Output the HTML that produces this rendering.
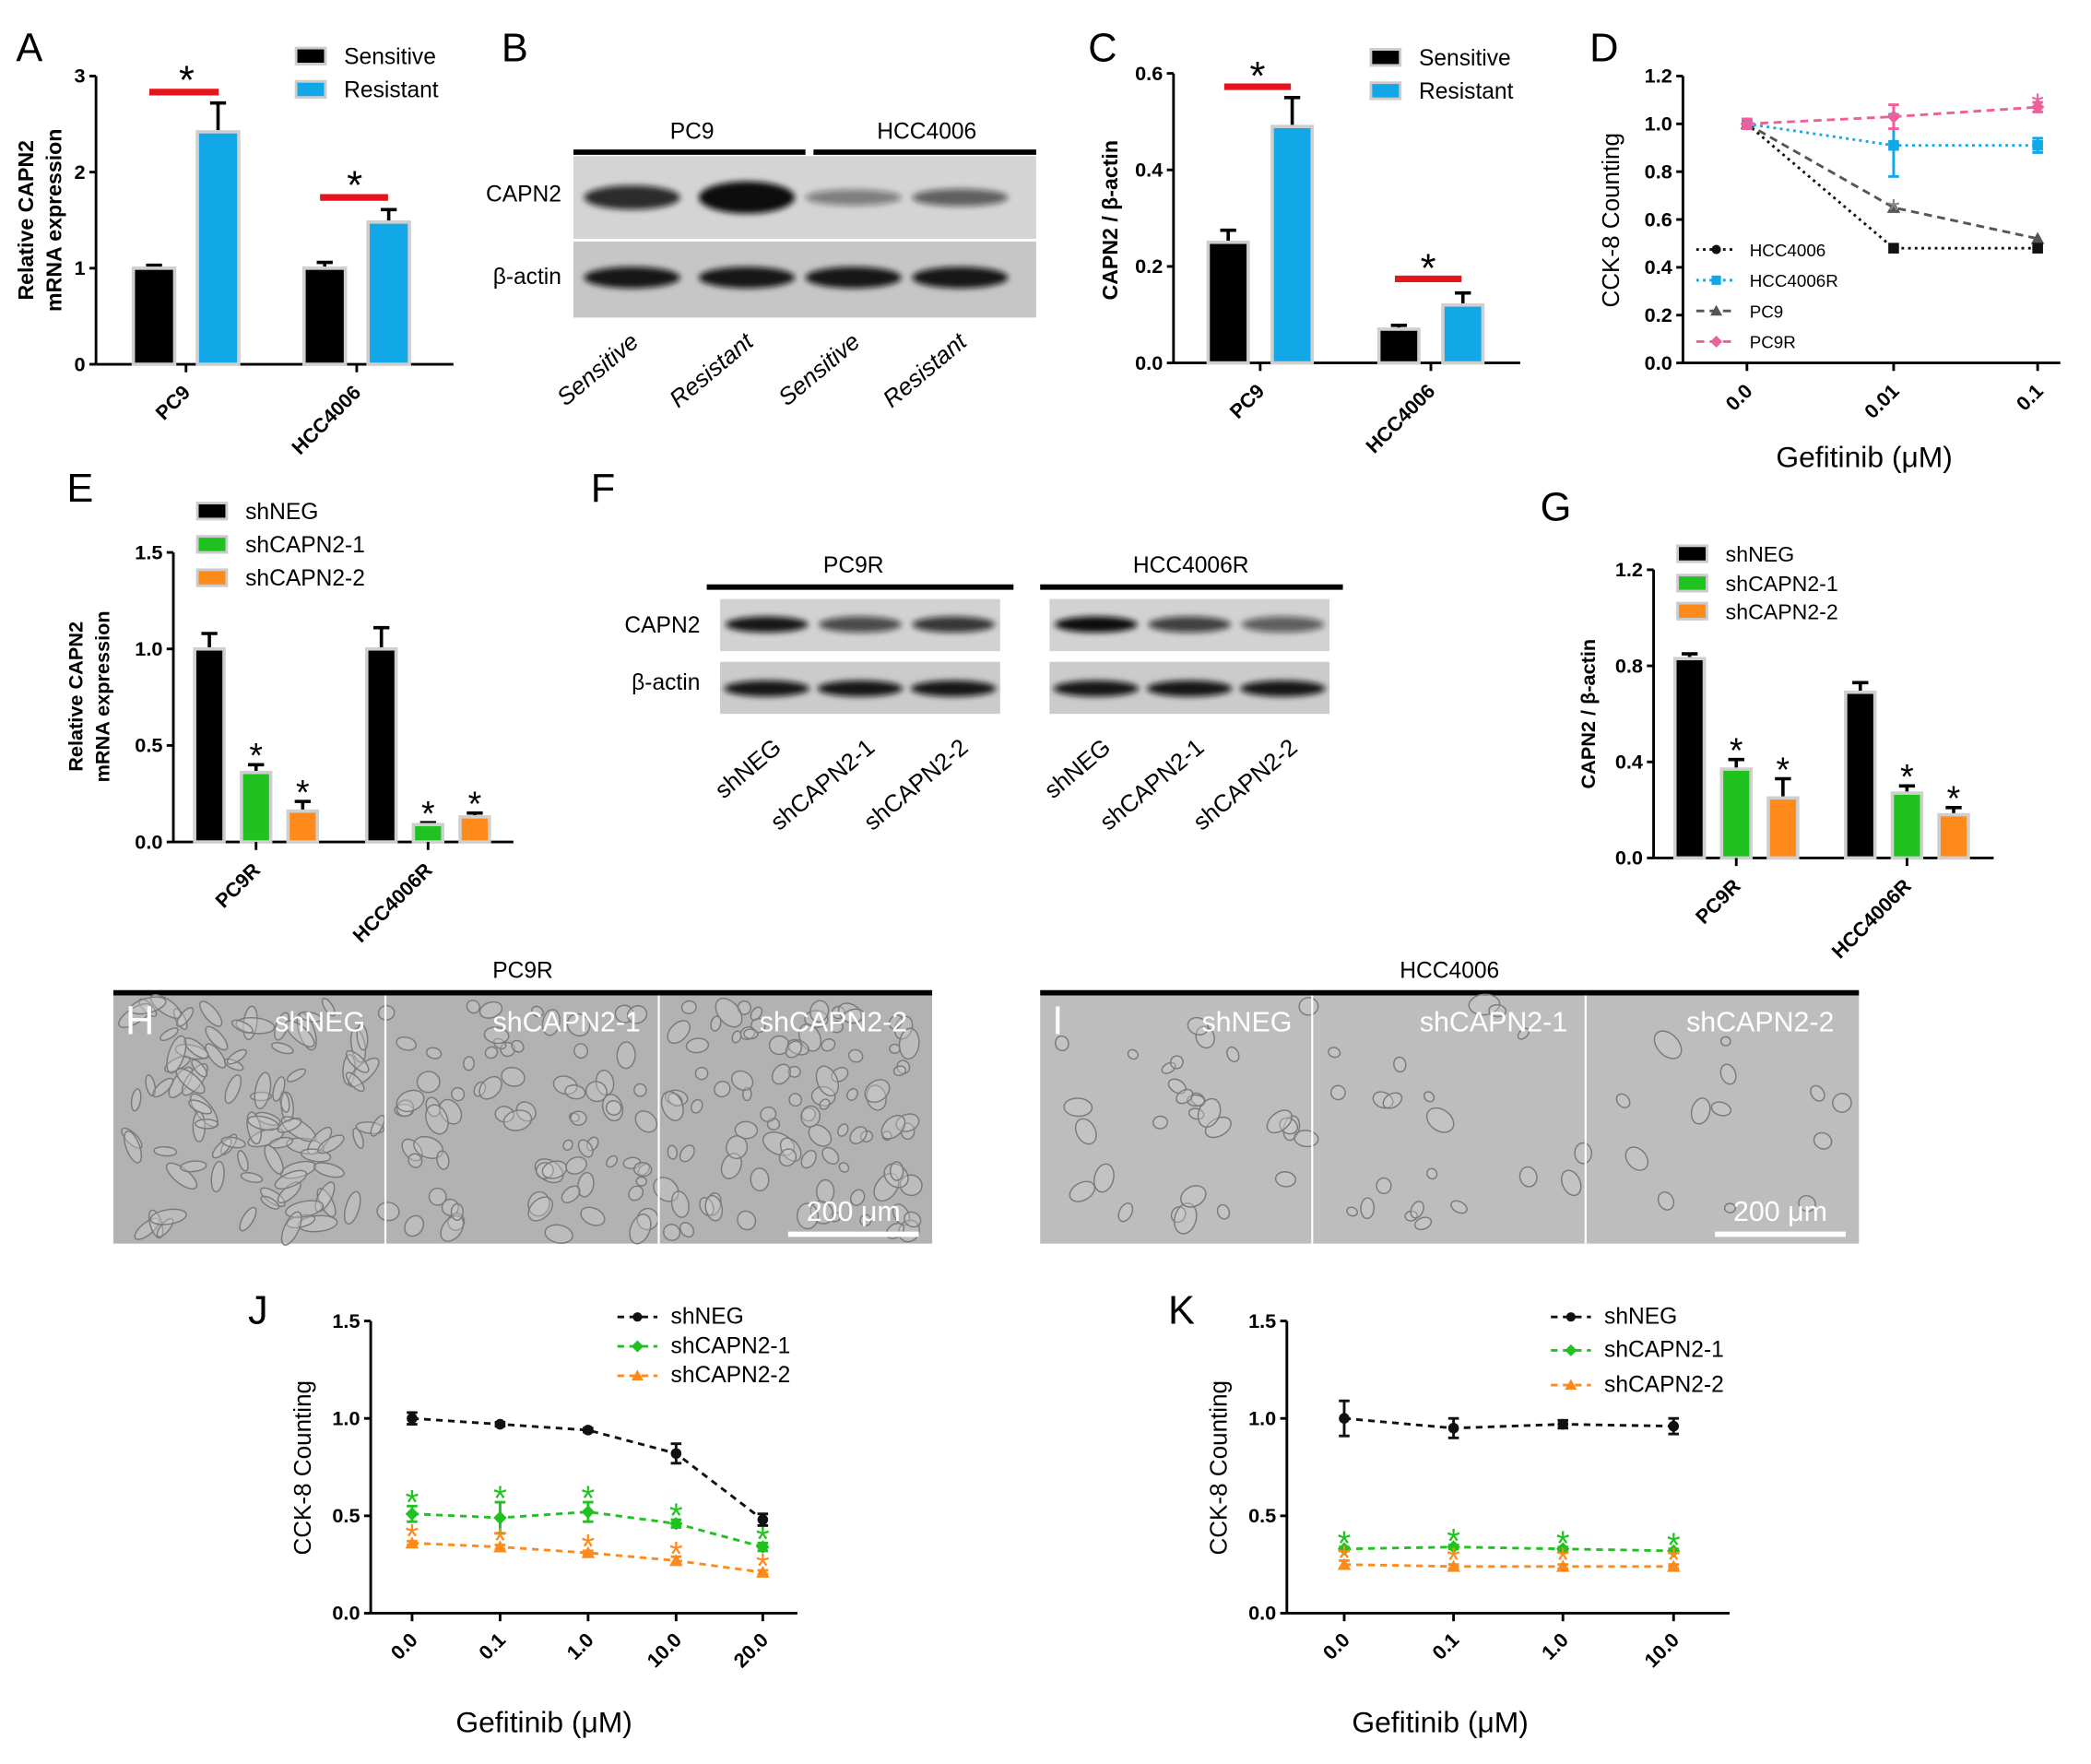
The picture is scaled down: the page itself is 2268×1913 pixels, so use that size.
<!DOCTYPE html>
<html><head><meta charset="utf-8">
<style>
html,body{margin:0;padding:0;background:#fff;}
svg{display:block;font-family:"Liberation Sans",Arial,sans-serif;}
</style></head>
<body>
<svg id="fig" width="2268" height="1913" viewBox="0 0 1568 1322" preserveAspectRatio="none" xmlns="http://www.w3.org/2000/svg"></svg>
<script>
// ---------- DATA ----------
const aCategories = ['PC9','HCC4006'];
const aSensitive = [1.0, 1.0];
const aSensitiveErr = [1.03, 1.06];
const aResistant = [2.42, 1.48];
const aResistantErr = [2.72, 1.61];
const aTicks = [0,1,2,3];

const cCategories = ['PC9','HCC4006'];
const cSensitive = [0.25, 0.07];
const cSensitiveErr = [0.275, 0.078];
const cResistant = [0.49, 0.12];
const cResistantErr = [0.55, 0.145];
const cTicks = [0.0,0.2,0.4,0.6];

const dXLabels = ['0.0','0.01','0.1'];
const dHCC4006 = [1.0, 0.48, 0.48];
const dHCC4006R = [1.0, 0.91, 0.91];
const dHCC4006RErr = [0.02, 0.13, 0.03];
const dPC9 = [1.0, 0.65, 0.52];
const dPC9R = [1.0, 1.03, 1.07];
const dTicks = [0.0,0.2,0.4,0.6,0.8,1.0,1.2];

const eCategories = ['PC9R','HCC4006R'];
const eShNEG = [1.0, 1.0];
const eShNEGErr = [1.08, 1.11];
const eSh1 = [0.36, 0.09];
const eSh1Err = [0.40, 0.10];
const eSh2 = [0.16, 0.13];
const eSh2Err = [0.21, 0.15];
const eTicks = [0.0,0.5,1.0,1.5];

const gCategories = ['PC9R','HCC4006R'];
const gShNEG = [0.83, 0.69];
const gShNEGErr = [0.85, 0.73];
const gSh1 = [0.37, 0.27];
const gSh1Err = [0.41, 0.30];
const gSh2 = [0.25, 0.18];
const gSh2Err = [0.33, 0.21];
const gTicks = [0.0,0.4,0.8,1.2];

const jXLabels = ['0.0','0.1','1.0','10.0','20.0'];
const jShNEG = [1.0, 0.97, 0.94, 0.82, 0.48];
const jShNEGErr = [0.03, 0.01, 0.01, 0.05, 0.03];
const jSh1 = [0.51, 0.49, 0.52, 0.46, 0.34];
const jSh1Err = [0.04, 0.08, 0.05, 0.02, 0.02];
const jSh2 = [0.36, 0.34, 0.31, 0.27, 0.21];
const jSh2Err = [0.01, 0.01, 0.01, 0.02, 0.01];
const jTicks = [0.0,0.5,1.0,1.5];

const kXLabels = ['0.0','0.1','1.0','10.0'];
const kShNEG = [1.0, 0.95, 0.97, 0.96];
const kShNEGErr = [0.09, 0.05, 0.02, 0.04];
const kSh1 = [0.33, 0.34, 0.33, 0.32];
const kSh1Err = [0.01, 0.01, 0.01, 0.01];
const kSh2 = [0.25, 0.24, 0.24, 0.24];
const kSh2Err = [0.02, 0.01, 0.01, 0.01];
const kTicks = [0.0,0.5,1.0,1.5];

// ---------- HELPERS ----------
const NS='http://www.w3.org/2000/svg';
const svg=document.getElementById('fig');
function mk(tag,attrs,name,parent){
  const el=document.createElementNS(NS,tag);
  for(const k in attrs) el.setAttribute(k,attrs[k]);
  
  
  (parent||svg).appendChild(el);
  return el;
}
function txt(x,y,s,name,opt){
  opt=opt||{};
  const a={x:x,y:y,'font-size':opt.size||14,fill:opt.fill||'#000','text-anchor':opt.anchor||'middle'};
  if(opt.bold) a['font-weight']='bold';
  if(opt.italic) a['font-style']='italic';
  if(opt.rot!==undefined) a.transform='rotate('+opt.rot+' '+x+' '+y+')';
  const t=mk('text',a,name,opt.parent);
  t.textContent=s;
  return t;
}
function line(x1,y1,x2,y2,name,opt){
  opt=opt||{};
  const a={x1:x1,y1:y1,x2:x2,y2:y2,stroke:opt.stroke||'#000','stroke-width':opt.w||2};
  if(opt.dash) a['stroke-dasharray']=opt.dash;
  return mk('line',a,name,opt.parent);
}
const BLUE='#12a7e6',GREEN='#1fc21f',ORANGE='#ff8a1c',PINK='#ef5f9c',GRAY='#666';

function yAxis(x,y0,yTop,ticks,max,name,dec){
  const ys=v=>y0-(v/max)*(y0-yTop);
  line(x,y0,x,yTop,name+'-y-axis');
  ticks.forEach(t=>{
    line(x-5,ys(t),x,ys(t),name+'-y-tick');
    txt(x-8,ys(t)+5,dec?t.toFixed(1):String(t),name+'-y-tick-label',{anchor:'end',size:15,bold:true});
  });
  return ys;
}
function barChart(cfg){
  const ys=yAxis(cfg.ax,cfg.y0,cfg.yTop,cfg.ticks,cfg.max,cfg.name,cfg.dec);
  line(cfg.ax,cfg.y0,cfg.axEnd,cfg.y0,cfg.name+'-x-axis');
  cfg.categories.forEach((c,gi)=>{
    const gx=cfg.groupX[gi];
    cfg.series.forEach((s,si)=>{
      const bx=gx+si*cfg.step;
      const v=s.values[gi], e=s.err[gi];
      line(bx+cfg.bw/2,ys(v),bx+cfg.bw/2,ys(e),cfg.name+'-error-bar',{w:2.5});
      line(bx+cfg.bw/2-6,ys(e),bx+cfg.bw/2+6,ys(e),cfg.name+'-error-cap',{w:2.5});
      mk('rect',{x:bx,y:ys(v),width:cfg.bw,height:cfg.y0-ys(v),fill:s.color,stroke:'#cfcfcf','stroke-width':2.5},cfg.name+'-bar-'+c.toLowerCase()+'-'+s.key);
      if(s.star) txt(bx+cfg.bw/2,ys(e)+2,'*',cfg.name+'-significance-star',{size:26});
    });
    const cx=gx+(cfg.series.length*cfg.step-(cfg.step-cfg.bw))/2;
    line(cx,cfg.y0,cx,cfg.y0+6,cfg.name+'-x-tick');
    txt(cx+4,cfg.y0+22,c,cfg.name+'-x-label',{anchor:'end',size:15,bold:true,rot:-45});
  });
  return ys;
}
function legendBox(x,y,color,label,name,ts){
  mk('rect',{x:x,y:y-6,width:22,height:12,fill:color,stroke:'#ccc','stroke-width':2},name+'-swatch');
  txt(x+36,y+6,label,name,{anchor:'start',size:ts||17});
}
function marker(type,x,y,color,name,size){
  size=size||4;
  if(type==='circle') mk('circle',{cx:x,cy:y,r:size,fill:color},name);
  else if(type==='square') mk('rect',{x:x-size,y:y-size,width:size*2,height:size*2,fill:color},name);
  else if(type==='tri') mk('polygon',{points:(x)+','+(y-size-1)+' '+(x-size-1)+','+(y+size)+' '+(x+size+1)+','+(y+size),fill:color},name);
  else if(type==='diamond') mk('polygon',{points:x+','+(y-size-1)+' '+(x+size+1)+','+y+' '+x+','+(y+size+1)+' '+(x-size-1)+','+y,fill:color},name);
}
function series(xs,vals,errs,ys,color,dash,mtype,name){
  const pts=vals.map((v,i)=>xs[i]+','+ys(v)).join(' ');
  mk('polyline',{points:pts,fill:'none',stroke:color,'stroke-width':2,'stroke-dasharray':dash},name+'-line');
  vals.forEach((v,i)=>{
    if(errs){
      const e=errs[i];
      line(xs[i],ys(v-e),xs[i],ys(v+e),name+'-error-bar',{stroke:color,w:2});
      line(xs[i]-4,ys(v+e),xs[i]+4,ys(v+e),name+'-error-cap',{stroke:color,w:2});
      line(xs[i]-4,ys(v-e),xs[i]+4,ys(v-e),name+'-error-cap',{stroke:color,w:2});
    }
    marker(mtype,xs[i],ys(v),color,name+'-point');
  });
}
function lineLegend(x,y,color,dash,mtype,label,name,ts){
  line(x,y,x+30,y,name+'-line',{stroke:color,dash:dash});
  marker(mtype,x+15,y,color,name+'-marker',3.5);
  txt(x+40,y+5,label,name,{anchor:'start',size:ts||17});
}
function letter(x,y,s,col){txt(x,y,s,'panel-label-'+s.toLowerCase(),{size:30,anchor:'start',fill:col||'#000'});}

// ---------- PANEL A ----------
letter(12,46,'A');
barChart({name:'panel-a',ax:72,y0:273,yTop:57,max:3,ticks:aTicks,axEnd:340,categories:aCategories,groupX:[100,228],bw:31,step:48,
  series:[{key:'sensitive',values:aSensitive,err:aSensitiveErr,color:'#000'},{key:'resistant',values:aResistant,err:aResistantErr,color:BLUE}]});
line(112,69,164,69,'panel-a-sig-line-pc9',{stroke:'#e8141b',w:5});
txt(140,70,'*','panel-a-sig-star-pc9',{size:30});
line(240,148,291,148,'panel-a-sig-line-hcc4006',{stroke:'#e8141b',w:5});
txt(266,149,'*','panel-a-sig-star-hcc4006',{size:30});
legendBox(222,42,'#000','Sensitive','panel-a-legend-sensitive');
legendBox(222,67,BLUE,'Resistant','panel-a-legend-resistant');
txt(25,165,'Relative CAPN2','panel-a-y-title-1',{size:16,bold:true,rot:-90});
txt(46,165,'mRNA expression','panel-a-y-title-2',{size:16,bold:true,rot:-90});

// ---------- blot helper ----------
function band(cx,cy,w,h,op,name){
  mk('ellipse',{cx:cx,cy:cy,rx:w/2,ry:h/2,fill:'#111','fill-opacity':op,filter:'url(#blur)'},name);
}
const defs=mk('defs',{},'defs');
const f=mk('filter',{id:'blur',x:'-20%',y:'-50%',width:'140%',height:'200%'},'blur-filter',defs);
mk('feGaussianBlur',{stdDeviation:2.2},'blur',f);

// ---------- PANEL B ----------
letter(376,46,'B');
mk('rect',{x:430,y:117,width:347,height:62,fill:'#d4d4d4'},'panel-b-capn2-blot');
mk('rect',{x:430,y:181,width:347,height:57,fill:'#c6c6c6'},'panel-b-actin-blot');
line(430,114,604,114,'panel-b-group-line-pc9',{w:4});
line(610,114,777,114,'panel-b-group-line-hcc4006',{w:4});
txt(519,104,'PC9','panel-b-group-pc9',{size:17});
txt(695,104,'HCC4006','panel-b-group-hcc4006',{size:17});
txt(421,151,'CAPN2','panel-b-row-capn2',{size:17,anchor:'end'});
txt(421,213,'β-actin','panel-b-row-actin',{size:17,anchor:'end'});
const bLanes=[474,560,640,720];
const bCapnOp=[0.85,1,0.45,0.6];
const bCapnH=[18,24,12,13];
const bLaneLabels=['Sensitive','Resistant','Sensitive','Resistant'];
bLanes.forEach((x,i)=>{
  band(x,148,72,bCapnH[i],bCapnOp[i],'panel-b-capn2-band');
  band(x,208,72,16,0.95,'panel-b-actin-band');
  txt(x+6,258,bLaneLabels[i],'panel-b-lane-label',{size:18,anchor:'end',italic:true,rot:-40});
});

// ---------- PANEL C ----------
letter(816,46,'C');
barChart({name:'panel-c',ax:880,y0:272,yTop:55,max:0.6,ticks:cTicks,dec:true,axEnd:1140,categories:cCategories,groupX:[906,1034],bw:30,step:48,
  series:[{key:'sensitive',values:cSensitive,err:cSensitiveErr,color:'#000'},{key:'resistant',values:cResistant,err:cResistantErr,color:BLUE}]});
line(918,65,968,65,'panel-c-sig-line-pc9',{stroke:'#e8141b',w:5});
txt(943,67,'*','panel-c-sig-star-pc9',{size:30});
line(1046,209,1096,209,'panel-c-sig-line-hcc4006',{stroke:'#e8141b',w:5});
txt(1071,211,'*','panel-c-sig-star-hcc4006',{size:30});
legendBox(1028,43,'#000','Sensitive','panel-c-legend-sensitive');
legendBox(1028,68,BLUE,'Resistant','panel-c-legend-resistant');
txt(838,165,'CAPN2 / β-actin','panel-c-y-title',{size:16,bold:true,rot:-90});

// ---------- PANEL D ----------
letter(1192,46,'D');
const dY=yAxis(1262,272,57,dTicks,1.2,'panel-d',true);
line(1262,272,1545,272,'panel-d-x-axis');
const dX=[1310,1420,1528];
dXLabels.forEach((l,i)=>{line(dX[i],272,dX[i],278,'panel-d-x-tick');txt(dX[i]+5,294,l,'panel-d-x-label',{size:15,bold:true,anchor:'end',rot:-45});});
series(dX,dPC9,null,dY,'#555','6,4','tri','panel-d-pc9');
series(dX,dHCC4006,null,dY,'#111','2,3','square','panel-d-hcc4006');
series(dX,dHCC4006R,dHCC4006RErr,dY,BLUE,'2,3','square','panel-d-hcc4006r');
series(dX,dPC9R,[0.02,0.05,0.02],dY,PINK,'6,4','diamond','panel-d-pc9r');
txt(dX[1],dY(dPC9[1])+10,'*','panel-d-star-pc9',{size:24,fill:'#888'});
txt(dX[2],dY(dPC9R[2])+6,'*','panel-d-star-pc9r',{size:24,fill:PINK});
lineLegend(1272,187,'#111','2,3','circle','HCC4006','panel-d-legend-hcc4006',13);
lineLegend(1272,210,BLUE,'2,3','square','HCC4006R','panel-d-legend-hcc4006r',13);
lineLegend(1272,233,'#555','6,4','tri','PC9','panel-d-legend-pc9',13);
lineLegend(1272,256,PINK,'6,4','diamond','PC9R','panel-d-legend-pc9r',13);
txt(1214,165,'CCK-8 Counting','panel-d-y-title',{size:18,rot:-90});
txt(1398,350,'Gefitinib (μM)','panel-d-x-title',{size:22});

// ---------- PANEL E ----------
letter(50,376,'E');
barChart({name:'panel-e',ax:130,y0:631,yTop:414,max:1.5,ticks:eTicks,dec:true,axEnd:385,categories:eCategories,groupX:[146,275],bw:22,step:35,
  series:[{key:'shneg',values:eShNEG,err:eShNEGErr,color:'#000'},{key:'shcapn2-1',values:eSh1,err:eSh1Err,color:GREEN,star:true},{key:'shcapn2-2',values:eSh2,err:eSh2Err,color:ORANGE,star:true}]});
legendBox(148,383,'#000','shNEG','panel-e-legend-shneg');
legendBox(148,408,GREEN,'shCAPN2-1','panel-e-legend-shcapn2-1');
legendBox(148,433,ORANGE,'shCAPN2-2','panel-e-legend-shcapn2-2');
txt(62,522,'Relative CAPN2','panel-e-y-title-1',{size:15,bold:true,rot:-90});
txt(82,522,'mRNA expression','panel-e-y-title-2',{size:15,bold:true,rot:-90});

// ---------- PANEL F ----------
letter(443,376,'F');
mk('rect',{x:540,y:449,width:210,height:39,fill:'#d2d2d2'},'panel-f-capn2-blot-left');
mk('rect',{x:540,y:496,width:210,height:39,fill:'#cbcbcb'},'panel-f-actin-blot-left');
mk('rect',{x:787,y:449,width:210,height:39,fill:'#d2d2d2'},'panel-f-capn2-blot-right');
mk('rect',{x:787,y:496,width:210,height:39,fill:'#cbcbcb'},'panel-f-actin-blot-right');
line(530,440,760,440,'panel-f-group-line-pc9r',{w:4});
line(780,440,1007,440,'panel-f-group-line-hcc4006r',{w:4});
txt(640,429,'PC9R','panel-f-group-pc9r',{size:17});
txt(893,429,'HCC4006R','panel-f-group-hcc4006r',{size:17});
txt(525,474,'CAPN2','panel-f-row-capn2',{size:17,anchor:'end'});
txt(525,517,'β-actin','panel-f-row-actin',{size:17,anchor:'end'});
const fLanes=[575,645,715,822,892,962];
const fCapnOp=[0.95,0.7,0.8,1,0.75,0.6];
const fLaneLabels=['shNEG','shCAPN2-1','shCAPN2-2','shNEG','shCAPN2-1','shCAPN2-2'];
fLanes.forEach((x,i)=>{
  band(x,468,62,12,fCapnOp[i],'panel-f-capn2-band');
  band(x,516,64,12,0.95,'panel-f-actin-band');
  txt(x+12,562,fLaneLabels[i],'panel-f-lane-label',{size:18,anchor:'end',rot:-40});
});

// ---------- PANEL G ----------
letter(1155,390,'G');
barChart({name:'panel-g',ax:1240,y0:643,yTop:427,max:1.2,ticks:gTicks,dec:true,axEnd:1495,categories:gCategories,groupX:[1256,1384],bw:22,step:35,
  series:[{key:'shneg',values:gShNEG,err:gShNEGErr,color:'#000'},{key:'shcapn2-1',values:gSh1,err:gSh1Err,color:GREEN,star:true},{key:'shcapn2-2',values:gSh2,err:gSh2Err,color:ORANGE,star:true}]});
legendBox(1258,415,'#000','shNEG','panel-g-legend-shneg',16);
legendBox(1258,437,GREEN,'shCAPN2-1','panel-g-legend-shcapn2-1',16);
legendBox(1258,458,ORANGE,'shCAPN2-2','panel-g-legend-shcapn2-2',16);
txt(1196,535,'CAPN2 / β-actin','panel-g-y-title',{size:15,bold:true,rot:-90});

// ---------- PANELS H, I (micrographs) ----------
function micro(x0,title,lbl,labels,seed,dense){
  txt(x0+307,733,title,'panel-'+lbl+'-title',{size:17});
  line(x0,744,x0+614,744,'panel-'+lbl+'-title-line',{w:4});
  const g=mk('g',{},'panel-'+lbl+'-micrograph');
  mk('rect',{x:x0,y:746,width:614,height:186,fill:dense?'#b2b2b2':'#bdbdbd'},'panel-'+lbl+'-background',g);
  let s=seed;
  const rnd=()=>{s=(s*9301+49297)%233280;return s/233280;};
  const n=dense?260:90;
  for(let i=0;i<n;i++){
    const cx=x0+6+rnd()*602, cy=752+rnd()*174;
    const panel=Math.floor((cx-x0)/204.7);
    if(!dense && panel>0 && rnd()<0.5) continue;
    const r=dense&&panel===0?3+rnd()*3:3+rnd()*5;
    const elong=dense&&panel===0?2.5:1+rnd()*0.6;
    mk('ellipse',{cx:cx,cy:cy,rx:r*elong,ry:r,transform:'rotate('+(rnd()*180)+' '+cx+' '+cy+')',fill:'#cfcfcf',stroke:'#7a7a7a','stroke-width':1,'fill-opacity':0.35},'panel-'+lbl+'-cell',g);
  }
  line(x0+204,746,x0+204,932,'panel-'+lbl+'-divider-1',{stroke:'#fff',w:1.5});
  line(x0+409,746,x0+409,932,'panel-'+lbl+'-divider-2',{stroke:'#fff',w:1.5});
  const lx=[x0+155,x0+340,x0+540];
  labels.forEach((l,i)=>txt(lx[i],773,l,'panel-'+lbl+'-condition-label',{size:21,fill:'#fff'}));
  txt(x0+555,915,'200 μm','panel-'+lbl+'-scale-label',{size:21,fill:'#fff'});
  line(x0+506,925,x0+604,925,'panel-'+lbl+'-scale-bar',{stroke:'#fff',w:4});
}
micro(85,'PC9R','h',['shNEG','shCAPN2-1','shCAPN2-2'],17,true);
micro(780,'HCC4006','i',['shNEG','shCAPN2-1','shCAPN2-2'],53,false);
letter(94,775,'H','#fff');
letter(789,775,'I','#fff');

// ---------- PANELS J, K ----------
function cckPanel(cfg){
  const ys=yAxis(cfg.ax,1209,990,cfg.ticks,1.5,cfg.name,true);
  line(cfg.ax,1209,cfg.axEnd,1209,cfg.name+'-x-axis');
  cfg.xl.forEach((l,i)=>{line(cfg.xs[i],1209,cfg.xs[i],1215,cfg.name+'-x-tick');txt(cfg.xs[i]+5,1230,l,cfg.name+'-x-label',{size:15,bold:true,anchor:'end',rot:-45});});
  series(cfg.xs,cfg.neg,cfg.negE,ys,'#111','5,4','circle',cfg.name+'-shneg');
  series(cfg.xs,cfg.s1,cfg.s1E,ys,GREEN,'5,4','diamond',cfg.name+'-shcapn2-1');
  series(cfg.xs,cfg.s2,cfg.s2E,ys,ORANGE,'5,4','tri',cfg.name+'-shcapn2-2');
  cfg.xs.forEach((x,i)=>{
    txt(x,ys(cfg.s1[i]+cfg.s1E[i])+6,'*',cfg.name+'-star-shcapn2-1',{size:26,fill:GREEN});
    txt(x,ys(cfg.s2[i])+4,'*',cfg.name+'-star-shcapn2-2',{size:26,fill:ORANGE});
  });
  lineLegend(cfg.lx,987,'#111','5,4','circle','shNEG',cfg.name+'-legend-shneg');
  lineLegend(cfg.lx,cfg.ly2,GREEN,'5,4','diamond','shCAPN2-1',cfg.name+'-legend-shcapn2-1');
  lineLegend(cfg.lx,cfg.ly3,ORANGE,'5,4','tri','shCAPN2-2',cfg.name+'-legend-shcapn2-2');
  txt(cfg.ax-45,1100,'CCK-8 Counting',cfg.name+'-y-title',{size:18,rot:-90});
  txt(cfg.tx,1298,'Gefitinib (μM)',cfg.name+'-x-title',{size:22});
}
letter(186,992,'J');
cckPanel({name:'panel-j',ax:278,axEnd:598,xs:[309,375,441,507,572],xl:jXLabels,ticks:jTicks,
  neg:jShNEG,negE:jShNEGErr,s1:jSh1,s1E:jSh1Err,s2:jSh2,s2E:jSh2Err,lx:463,ly2:1009,ly3:1031,tx:408});
letter(876,992,'K');
cckPanel({name:'panel-k',ax:965,axEnd:1297,xs:[1008,1090,1172,1255],xl:kXLabels,ticks:kTicks,
  neg:kShNEG,negE:kShNEGErr,s1:kSh1,s1E:kSh1Err,s2:kSh2,s2E:kSh2Err,lx:1163,ly2:1012,ly3:1038,tx:1080});
</script>
</body></html>
